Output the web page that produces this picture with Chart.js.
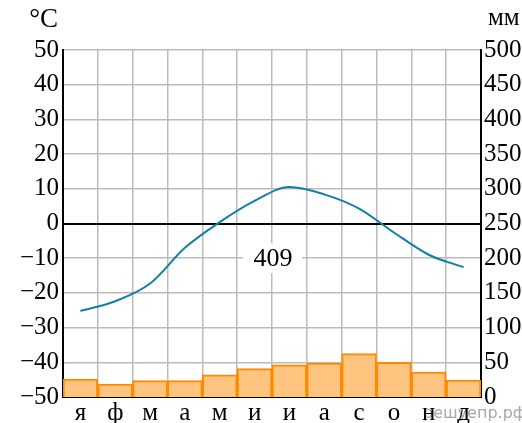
<!DOCTYPE html>
<html>
<head>
<meta charset="utf-8">
<script src="https://cdn.jsdelivr.net/npm/chart.js@4"></script>
<style>
  html, body { margin: 0; padding: 0; background: #fff; }
  canvas { display: block; }
</style>
</head>
<body>
<canvas id="climate-chart" width="522" height="423"></canvas>
<script>
// monthly data
const months = ['я', 'ф', 'м', 'а', 'м', 'и', 'и', 'а', 'с', 'о', 'н', 'д'];
const temperature = [-25.2, -22.4, -17.3, -7, 0.4, 6.5, 10.5, 8.4, 4.3, -2.6, -9, -12.6];
const precipitation = [26, 18.5, 23.5, 23.5, 32, 41, 46.5, 49, 62.5, 50, 36, 24.5];
const annualTotal = '409';

const serif = '"Liberation Serif", "Times New Roman", serif';

// unit captions, the total box and the watermark
const extras = {
  id: 'extras',
  beforeDraw(chart) {
    // watermark sits under the month labels
    const { ctx } = chart;
    ctx.save();
    ctx.fillStyle = 'rgba(130,130,130,0.7)';
    ctx.font = '16px "DejaVu Sans", sans-serif';
    ctx.textBaseline = 'alphabetic';
    ctx.fillText('решуепр.рф', 423, 418);
    ctx.restore();
  },
  beforeDatasetsDraw(chart) {
    const { ctx, chartArea } = chart;
    const yT = chart.scales.yTemp;
    const cx = (chartArea.left + chartArea.right) / 2;
    const cy = yT.getPixelForValue(-10);
    ctx.save();
    ctx.fillStyle = '#fff';
    ctx.fillRect(cx - 29, cy - 15, 59, 30);
    ctx.fillStyle = '#000';
    ctx.font = '26px ' + serif;
    ctx.textAlign = 'center';
    ctx.textBaseline = 'middle';
    ctx.fillText(annualTotal, cx + 1, cy + 1);
    ctx.restore();
  },
  afterDraw(chart) {
    const { ctx, chartArea } = chart;
    ctx.save();
    ctx.fillStyle = '#000';
    ctx.textBaseline = 'alphabetic';
    ctx.font = '27px ' + serif;
    ctx.textAlign = 'right';
    ctx.fillText('°C', chartArea.left - 5, 27);
    ctx.font = '25px ' + serif;
    ctx.textAlign = 'left';
    ctx.fillText('мм', chartArea.right + 7, 25);
    ctx.restore();
  }
};

const minus = v => (v < 0 ? '\u2212' + Math.abs(v) : String(v));

new Chart(document.getElementById('climate-chart'), {
  type: 'bar',
  data: {
    labels: months,
    datasets: [
      {
        type: 'line',
        data: temperature,
        yAxisID: 'yTemp',
        borderColor: '#107fa7',
        borderWidth: 2,
        pointRadius: 0,
        cubicInterpolationMode: 'monotone',
        order: 0
      },
      {
        type: 'bar',
        data: precipitation,
        yAxisID: 'yPrec',
        backgroundColor: '#ffc580',
        borderColor: '#ff8a00',
        borderWidth: 2,
        barPercentage: 1,
        categoryPercentage: 1,
        order: 1
      }
    ]
  },
  options: {
    responsive: false,
    animation: false,
    layout: { padding: { top: 50, left: 0, right: 0, bottom: 0 } },
    plugins: { legend: { display: false }, tooltip: { enabled: false } },
    scales: {
      x: {
        offset: true,
        grid: { offset: true, color: '#bbbbbb', lineWidth: 1.5, drawTicks: false },
        border: { color: '#000', width: 2 },
        ticks: { color: '#000', padding: 1, font: { family: serif, size: 25 } },
        afterFit(s) { s.height = 26; }
      },
      yTemp: {
        position: 'left',
        min: -50,
        max: 50,
        ticks: {
          stepSize: 5,
          color: '#000',
          padding: 4,
          font: { family: serif, size: 25 },
          callback: v => (v % 10 === 0 ? minus(v) : '')
        },
        grid: {
          drawTicks: false,
          color: c => (c.tick && c.tick.value === 0 ? '#000' : '#bbbbbb'),
          lineWidth: c => (c.tick && c.tick.value === 0 ? 2 : 1.5)
        },
        border: { color: '#000', width: 2 },
        afterFit(s) { s.width = 63; }
      },
      yPrec: {
        position: 'right',
        min: 0,
        max: 500,
        ticks: {
          stepSize: 50,
          color: '#000',
          padding: 3,
          font: { family: serif, size: 25 }
        },
        grid: { display: false, drawTicks: false },
        border: { color: '#000', width: 2 },
        afterFit(s) { s.width = 41; }
      }
    }
  },
  plugins: [extras]
});
</script>
</body>
</html>
